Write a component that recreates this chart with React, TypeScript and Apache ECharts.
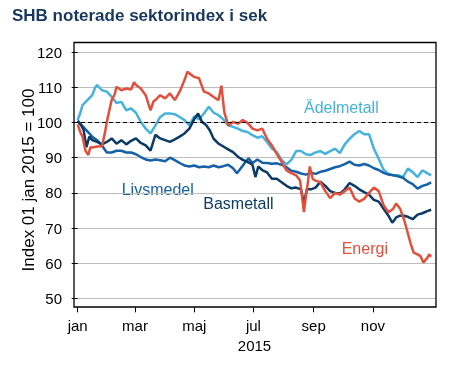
import React, { useEffect, useRef } from "react";
import * as echarts from "echarts";

// Day-of-year (0 = 1 jan 2015) for month tick labels
const monthTickDays = [0, 59, 120, 181, 243, 304];
const monthTickLabels = ["jan", "mar", "maj", "jul", "sep", "nov"];
const yearLabel = "2015";
const yAxisName = "Index 01 jan 2015 = 100";
const titleText = "SHB noterade sektorindex i sek";
const baseline = 100;

// [day of year, index value]
const adelmetall: [number, number][] = [
  [0, 100.7], [3, 103], [5, 105], [10, 106.4], [15, 107.8], [18, 110], [20, 110.7], [25, 109.2],
  [30, 108.8], [35, 107.3], [40, 105.6], [45, 105.9], [50, 103.5], [55, 104], [60, 102.8],
  [65, 100.2], [70, 98.3], [75, 96.9], [80, 99.2], [85, 101.6], [90, 102.6], [95, 102.6],
  [100, 102.4], [105, 101.6], [110, 100.7], [115, 99.2], [120, 101.8], [125, 100.9], [130, 102.6],
  [135, 104.5], [140, 102.8], [145, 102.1], [150, 100.9], [155, 99.2], [160, 98.8], [165, 98.3],
  [170, 97.6], [175, 97.3], [180, 96.4], [185, 95.7], [190, 96.1], [195, 94.5], [200, 92.6],
  [205, 91.6], [210, 89.4], [215, 88.1], [220, 89.4], [225, 91.9], [230, 91.9], [235, 91],
  [240, 90.8], [245, 91.5], [250, 91.9], [255, 91.1], [260, 91.9], [265, 92.6], [270, 91.3],
  [275, 93.8], [280, 95.4], [285, 96.7], [290, 97.6], [295, 96.7], [300, 96.7], [305, 92.6],
  [310, 89.7], [315, 86.6], [320, 85.4], [325, 85], [330, 85], [335, 84.5], [340, 86.9],
  [345, 85.9], [350, 84.5], [355, 86.4], [360, 85.6], [364, 85],
];

const livsmedel: [number, number][] = [
  [0, 100.5], [5, 99], [10, 97.5], [15, 96], [20, 95], [25, 93.5], [30, 91.5], [35, 91.5],
  [40, 92], [45, 92], [50, 91.5], [55, 91.5], [60, 91], [65, 90.2], [70, 89.5], [75, 89.2],
  [80, 89.5], [85, 89.3], [90, 89], [95, 90], [100, 89.3], [105, 88.5], [110, 87.8], [115, 87.5],
  [120, 87.8], [125, 87.3], [130, 87.5], [135, 87.3], [140, 87.8], [145, 87.3], [150, 87.6],
  [155, 88], [160, 87], [164, 85.6], [168, 87], [172, 88.5], [176, 89.8], [180, 88.5],
  [185, 89.5], [190, 88.6], [195, 88.5], [200, 88.3], [205, 88.4], [210, 88], [215, 87.3],
  [220, 86.3], [225, 86], [230, 85.5], [235, 85.2], [240, 85.7], [245, 85.4], [250, 86],
  [255, 86.3], [260, 86.8], [265, 87.3], [270, 87.6], [275, 88.2], [280, 88.9], [285, 88],
  [290, 87.8], [295, 88.2], [300, 87.8], [305, 87], [310, 86.5], [315, 85.7], [320, 85.2],
  [325, 85], [330, 84.7], [335, 84.3], [340, 83.2], [345, 82.5], [350, 81.2], [355, 82],
  [360, 82.4], [364, 83],
];

const basmetall: [number, number][] = [
  [0, 100.5], [3, 99.5], [6, 98], [9, 93], [12, 96], [15, 95], [20, 94.5], [25, 93.8],
  [30, 94.5], [35, 95.5], [40, 94], [45, 95], [50, 93.8], [55, 94.8], [60, 95.5], [65, 94.2],
  [70, 93.5], [75, 92], [80, 96.5], [85, 95.5], [90, 95], [95, 94.5], [100, 95.2], [105, 96],
  [110, 96.9], [115, 98.3], [120, 101], [124, 102.6], [128, 100.2], [132, 99.4], [136, 97.8],
  [140, 95.4], [145, 94], [150, 93.2], [155, 92.4], [160, 91.6], [165, 90.3], [170, 89.4],
  [175, 88.8], [180, 88], [183, 84.5], [186, 87.5], [190, 86.5], [195, 85.8], [200, 84],
  [205, 84], [210, 83], [215, 82], [220, 81.3], [225, 81.5], [230, 81], [233, 77], [236, 81],
  [240, 81], [245, 81.5], [250, 83.2], [255, 82], [260, 80.5], [265, 80], [270, 79.8],
  [275, 81], [280, 82.8], [285, 82], [290, 81], [295, 80.2], [300, 79.5], [305, 78],
  [310, 77.5], [315, 75.5], [320, 73.5], [324, 71.5], [328, 73], [332, 73.5], [336, 73.5],
  [340, 73.2], [345, 72.5], [350, 73.8], [355, 74.2], [360, 74.8], [364, 75.2],
];

const energi: [number, number][] = [
  [0, 99.5], [3, 97], [5, 96], [8, 92], [11, 90.8], [13, 93], [15, 92.9], [20, 93.2],
  [25, 93.3], [28, 97], [30, 100.2], [33, 104], [35, 106.4], [38, 108], [40, 110.2], [45, 109.2],
  [50, 109.7], [55, 109.4], [58, 111.5], [60, 110.7], [65, 109.7], [70, 107.8], [75, 103.5],
  [78, 106], [80, 106.4], [85, 107.8], [90, 106.9], [95, 108.3], [100, 106.4], [105, 108.8],
  [110, 112.1], [113, 114.5], [115, 114], [120, 113], [125, 112.6], [130, 108.8], [135, 108.3],
  [140, 107.3], [145, 106.4], [148, 110.5], [151, 103], [155, 99.2], [160, 100.2], [165, 99.7],
  [170, 100.7], [175, 99.9], [180, 98.3], [185, 97.8], [190, 98.3], [195, 95.4], [200, 93.5],
  [205, 91.1], [210, 88.8], [215, 86.4], [220, 85.6], [225, 85], [229, 83.5], [231, 79],
  [233, 74.5], [235, 79], [237, 82.8], [239, 87.5], [242, 84], [245, 83.5], [250, 83],
  [255, 80.5], [260, 78.5], [265, 80], [270, 79.5], [275, 80.5], [280, 81.5], [285, 78.5],
  [290, 77.5], [295, 78.3], [300, 80], [305, 81.5], [310, 80.5], [315, 76.5], [320, 74.5],
  [325, 75.5], [328, 77], [332, 75.5], [336, 72.5], [340, 68.5], [343, 65.5], [346, 63],
  [350, 62.5], [353, 62], [356, 60.2], [360, 61.5], [362, 62.5], [364, 61.8],
];

const FONT = '"Liberation Sans", Arial, Helvetica, sans-serif';
const C_ADEL = "#45b3db";
const C_LIVS = "#1560a6";
const C_BAS = "#0c3a66";
const C_ENERGI = "#e2503b";

export default function App() {
  const ref = useRef<HTMLDivElement>(null);
  useEffect(() => {
    if (!ref.current) return;
    const chart = echarts.init(ref.current, null, { renderer: "svg" });
    const mkLine = (name: string, data: [number, number][], color: string, extra: any = {}) => ({
      name,
      type: "line",
      data,
      showSymbol: false,
      symbol: "none",
      lineStyle: { color, width: 2.5 },
      itemStyle: { color },
      silent: true,
      ...extra,
    });
    chart.setOption({
      animation: false,
      textStyle: { fontFamily: FONT },
      grid: { left: 74, right: 15, top: 52.3, bottom: 68.7 },
      xAxis: {
        type: "value",
        min: -3.8,
        max: 369,
        offset: 9,
        axisLine: { show: false },
        axisTick: {
          show: true,
          length: 5,
          customValues: monthTickDays,
          lineStyle: { color: "#000", width: 1 },
        },
        axisLabel: {
          customValues: monthTickDays,
          formatter: (v: number) => {
            const i = monthTickDays.indexOf(Math.round(v));
            return i >= 0 ? monthTickLabels[i] : "";
          },
          margin: 11,
          fontSize: 15,
          color: "#000",
          fontFamily: FONT,
        },
        splitLine: { show: false },
      },
      yAxis: {
        type: "value",
        min: 50,
        max: 120,
        interval: 10,
        axisLine: { show: false },
        axisTick: { show: true, length: 6, lineStyle: { color: "#000", width: 1 } },
        axisLabel: { margin: 12, fontSize: 15, color: "#000", fontFamily: FONT },
        splitLine: { show: true, lineStyle: { color: "#bdbdbd", width: 1 } },
      },
      series: [
        mkLine("Ädelmetall", adelmetall, C_ADEL),
        mkLine("Livsmedel", livsmedel, C_LIVS),
        mkLine("Basmetall", basmetall, C_BAS),
        mkLine("Energi", energi, C_ENERGI, {
          markLine: {
            silent: true,
            symbol: "none",
            label: { show: false },
            lineStyle: { color: "#000", type: [4, 3], width: 1.2 },
            data: [{ yAxis: baseline }],
          },
        }),
      ],
      graphic: [
        {
          type: "rect",
          z: 100,
          shape: { x: 74, y: 42.5, width: 362, height: 264.5 },
          style: { fill: "none", stroke: "#000", lineWidth: 1.3 },
        },
        {
          type: "text",
          x: 12,
          y: 15.8,
          style: {
            text: titleText,
            font: `bold 17px ${FONT}`,
            fill: "#17375e",
            align: "left",
            verticalAlign: "middle",
          },
        },
        {
          type: "text",
          x: 28,
          y: 180,
          rotation: Math.PI / 2,
          style: {
            text: yAxisName,
            font: `17px ${FONT}`,
            fill: "#000",
            align: "center",
            verticalAlign: "middle",
          },
        },
        {
          type: "text",
          x: 254.5,
          y: 345,
          style: { text: yearLabel, font: `15px ${FONT}`, fill: "#000", align: "center", verticalAlign: "middle" },
        },
        {
          type: "text",
          x: 304,
          y: 107.5,
          style: { text: "Ädelmetall", font: `16px ${FONT}`, fill: C_ADEL, align: "left", verticalAlign: "middle" },
        },
        {
          type: "text",
          x: 121.7,
          y: 189.5,
          style: { text: "Livsmedel", font: `16px ${FONT}`, fill: C_LIVS, align: "left", verticalAlign: "middle" },
        },
        {
          type: "text",
          x: 203.3,
          y: 203,
          style: { text: "Basmetall", font: `16px ${FONT}`, fill: C_BAS, align: "left", verticalAlign: "middle" },
        },
        {
          type: "text",
          x: 341.7,
          y: 248.5,
          style: { text: "Energi", font: `16px ${FONT}`, fill: C_ENERGI, align: "left", verticalAlign: "middle" },
        },
      ],
    });
    return () => chart.dispose();
  }, []);
  return <div ref={ref} style={{ position: "fixed", left: 0, top: 0, width: 451, height: 367 }} />;
}
